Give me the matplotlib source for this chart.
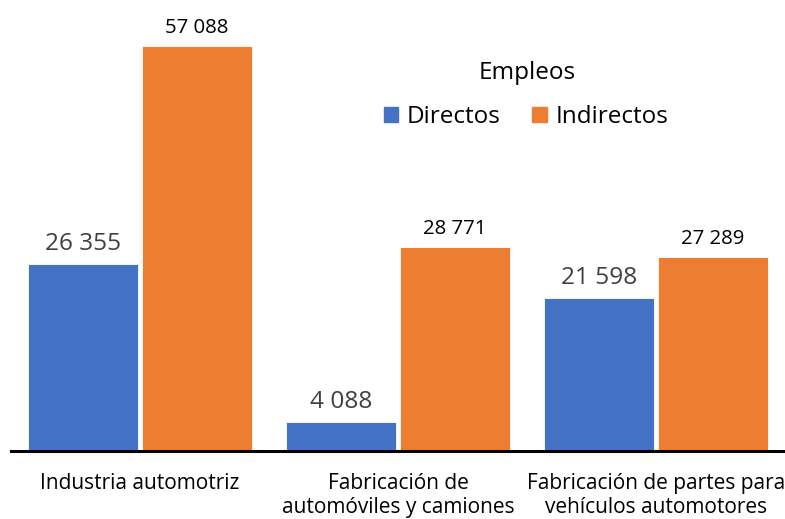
import matplotlib
matplotlib.use("Agg")
import matplotlib.pyplot as plt
import numpy as np
from matplotlib.patches import Patch

categories = ["Industria automotriz", "Fabricación de\nautomóviles y camiones",
              "Fabricación de partes para\nvehículos automotores"]
directos = [26355, 4088, 21598]
indirectos = [57088, 28771, 27289]
series_names = ["Directos", "Indirectos"]
legend_title = "Empleos"

def fmt(v):
    return f"{v:,}".replace(",", " ")

plt.rcParams['font.family'] = ['Open Sans', 'DejaVu Sans']
W, H = 785, 519
fig = plt.figure(figsize=(W/100, H/100), dpi=100)
ax = fig.add_axes([11/W, (H-451)/H, 774/W, 451/H])

x = np.arange(len(categories))
bw = 110/258
off = 57/258
blue = "#4472C4"
orange = "#ED7D31"
ax.bar(x - off, directos, bw, color=blue, edgecolor="white", linewidth=0.6)
ax.bar(x + off, indirectos, bw, color=orange, edgecolor="white", linewidth=0.6)

ax.set_xlim(-0.5, 2.5)
ymax = 451/(405/57088)
ax.set_ylim(0, ymax)
pxu = ymax/451
for xi, v in zip(x, directos):
    ax.text(xi - off, v + 8*pxu, fmt(v), ha="center", va="bottom",
            fontsize=17.6, color="#404040")
for xi, v in zip(x, indirectos):
    ax.text(xi + off, v + 8*pxu, fmt(v), ha="center", va="bottom",
            fontsize=14.7, color="black")

for s in ["top", "right", "left"]:
    ax.spines[s].set_visible(False)
ax.spines["bottom"].set_linewidth(2.2)
ax.spines["bottom"].set_color("black")
ax.set_yticks([])
ax.set_xticks(x)
ax.set_xticklabels(categories, fontsize=15, linespacing=1.2)
ax.tick_params(axis="x", length=0, pad=16)

fig.text(527/W, 1-73/H, legend_title, ha="center", va="center", fontsize=17.5)
handles = [Patch(color=blue), Patch(color=orange)]
leg = fig.legend(handles, series_names, loc="center",
                 bbox_to_anchor=(526/W, 1-117/H), ncol=2, frameon=False,
                 fontsize=17.5, handlelength=0.6, borderpad=0,
                 handleheight=0.6, handletextpad=0.35, columnspacing=1.3)

fig.savefig("out.png", dpi=100)
